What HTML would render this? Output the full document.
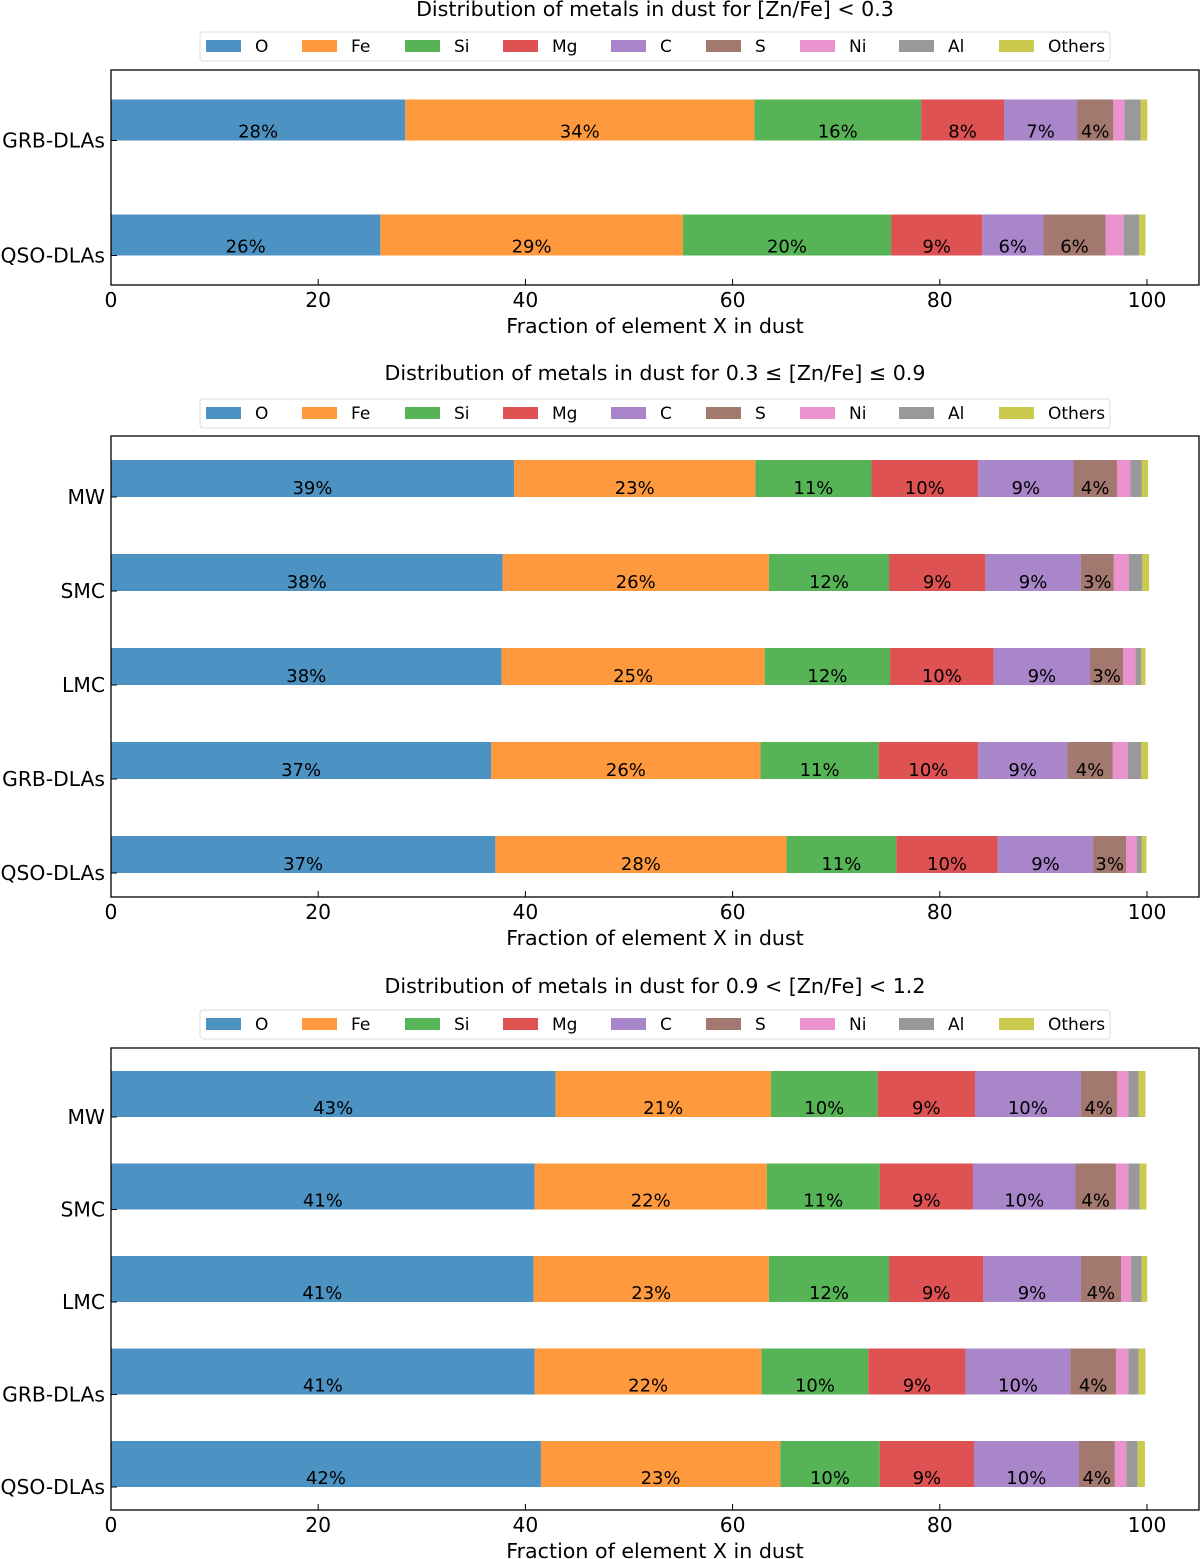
<!DOCTYPE html>
<html><head><meta charset="utf-8"><style>
html,body{margin:0;padding:0;background:#fff;}
svg{display:block;font-family:"DejaVu Sans","Liberation Sans",sans-serif;}
</style></head><body>
<svg id="chart" width="1200" height="1559" viewBox="0 0 1200 1559" xmlns="http://www.w3.org/2000/svg"></svg>
<script>
const elements = ["O","Fe","Si","Mg","C","S","Ni","Al","Others"];
const colors = ["#1f77b4","#ff7f0e","#2ca02c","#d62728","#9467bd","#8c564b","#e377c2","#7f7f7f","#bcbd22"];
const xTicks = [0,20,40,60,80,100];
const titles = ["Distribution of metals in dust for [Zn/Fe] < 0.3","Distribution of metals in dust for 0.3 \u2264 [Zn/Fe] \u2264 0.9","Distribution of metals in dust for 0.9 < [Zn/Fe] < 1.2"];
const cats1 = ["GRB-DLAs","QSO-DLAs"];
const cats2 = ["MW","SMC","LMC","GRB-DLAs","QSO-DLAs"];
const cats3 = ["MW","SMC","LMC","GRB-DLAs","QSO-DLAs"];
const vals1 = [
 [28.4,33.7,16.1,8.0,7.05,3.5,1.06,1.58,0.64],
 [26.0,29.2,20.1,8.8,5.9,6.0,1.75,1.5,0.6]];
const vals2 = [
 [38.9,23.3,11.2,10.3,9.2,4.2,1.3,1.1,0.6],
 [37.8,25.7,11.6,9.3,9.2,3.2,1.45,1.3,0.65],
 [37.7,25.4,12.1,10.0,9.3,3.2,1.2,0.55,0.4],
 [36.7,26.0,11.4,9.6,8.6,4.4,1.45,1.3,0.65],
 [37.1,28.1,10.6,9.8,9.2,3.2,1.0,0.5,0.45]];
const vals3 = [
 [42.9,20.8,10.3,9.4,10.2,3.5,1.1,1.0,0.65],
 [40.9,22.4,10.9,9.0,9.9,3.9,1.2,1.1,0.65],
 [40.8,22.7,11.6,9.1,9.4,3.9,0.97,1.0,0.55],
 [40.9,21.9,10.3,9.4,10.1,4.4,1.2,1.0,0.65],
 [41.5,23.1,9.6,9.1,10.1,3.5,1.1,1.1,0.7]];

const svg = document.getElementById('chart');
const NS = "http://www.w3.org/2000/svg";
function mk(tag, attrs, parent){const e=document.createElementNS(NS,tag);for(const k in attrs)e.setAttribute(k,attrs[k]);(parent||svg).appendChild(e);return e;}
const X0=111, PX=10.36;
function xs(v){return X0+v*PX;}

const panels = [
 {cats:cats1, vals:vals1, top:70, bot:285, c0:120, step:115, h:41, titleY:16, legY:46},
 {cats:cats2, vals:vals2, top:436, bot:897, c0:478.5, step:94, h:37, titleY:380, legY:413},
 {cats:cats3, vals:vals3, top:1048, bot:1510, c0:1094, step:92.5, h:46, titleY:993, legY:1024}
];
const legPatchX=[206,302,405,503,611,706,800,899,999];

panels.forEach((p,pi)=>{
  const g = mk('g',{});
  
  
  const t = mk('text',{x:655,y:p.titleY,'text-anchor':'middle','font-size':20.6,fill:'#000'},g);
  t.textContent = titles[pi];
  
  
  const lg = mk('g',{},g);
  
  
  mk('rect',{x:200,y:p.legY-14,width:910,height:29,rx:3,fill:'#fff',stroke:'#ddd','stroke-width':1},lg);
  elements.forEach((el,i)=>{
    const eg = mk('g',{},lg);
    
    
    mk('rect',{x:legPatchX[i],y:p.legY-6,width:35,height:12,fill:colors[i],'fill-opacity':0.8},eg);
    const lt = mk('text',{x:legPatchX[i]+49,y:p.legY+6,'font-size':17,fill:'#000'},eg);
    lt.textContent = el;
  });
  p.cats.forEach((cat,ci)=>{
    const cy = p.c0 + ci*p.step;
    const y = cy - p.h/2;
    let cum = 0;
    p.vals[ci].forEach((v,ei)=>{
      const r = mk('rect',{x:xs(cum),y:y,width:v*PX,height:p.h,fill:colors[ei],'fill-opacity':0.8},g);
      
      
      if(v>=2.5){
        const bt = mk('text',{x:xs(cum+v/2),y:y+p.h-3,'text-anchor':'middle','font-size':18,fill:'#000'},g);
        bt.textContent = Math.round(v)+'%';
        
        
      }
      cum += v;
    });
    const yl = mk('text',{x:105,y:y+p.h+7,'text-anchor':'end','font-size':20.3,fill:'#000'},g);
    yl.textContent = cat;
    
    
    mk('line',{x1:111,x2:117,y1:y+p.h,y2:y+p.h,stroke:'#000','stroke-width':1},g);
  });
  const fr = mk('rect',{x:111,y:p.top,width:1088,height:p.bot-p.top,fill:'none',stroke:'#000','stroke-width':1.3},g);
  
  
  xTicks.forEach(tv=>{
    mk('line',{x1:xs(tv),x2:xs(tv),y1:p.bot,y2:p.bot-6,stroke:'#000','stroke-width':1},g);
    const tl = mk('text',{x:xs(tv),y:p.bot+22,'text-anchor':'middle','font-size':20.3,fill:'#000'},g);
    tl.textContent = tv;
    
    
  });
  const xt = mk('text',{x:655,y:p.bot+48,'text-anchor':'middle','font-size':20.6,fill:'#000'},g);
  xt.textContent = 'Fraction of element X in dust';
  
  
});
</script>
</body></html>
